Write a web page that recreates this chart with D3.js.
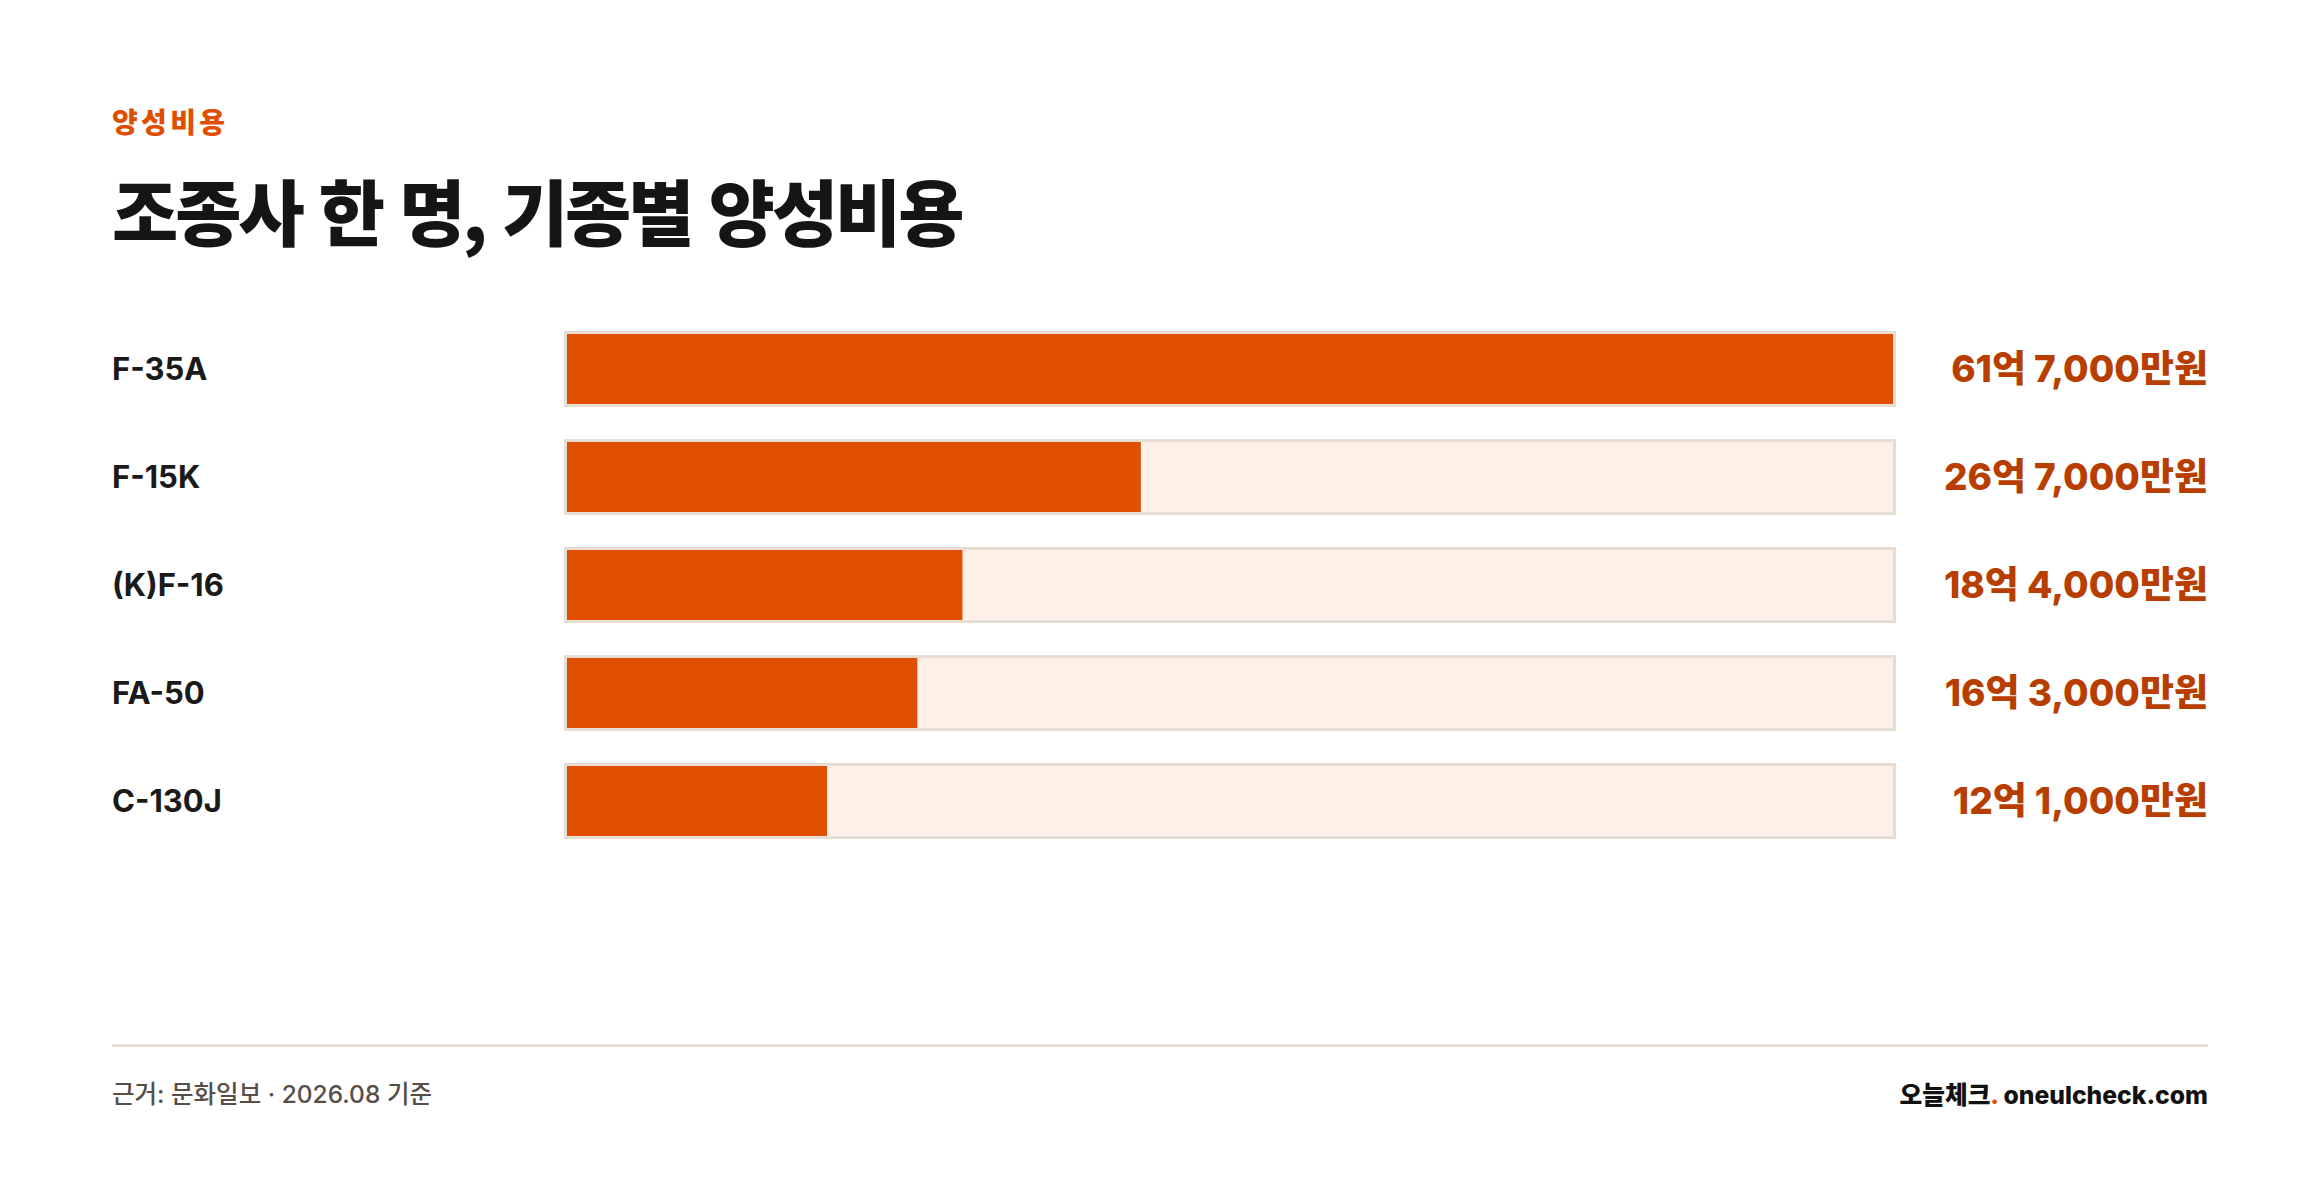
<!DOCTYPE html>
<html lang="ko">
<head>
<meta charset="utf-8">
<script src="https://cdn.jsdelivr.net/npm/d3@7"></script>
<style>
  html, body { margin: 0; padding: 0; background: #fff; }
  svg { display: block; }
</style>
</head>
<body>
<div id="chart"></div>
<script>
// 기종별 조종사 1인 양성비용 (억원)
const aircraft = ["F-35A", "F-15K", "(K)F-16", "FA-50", "C-130J"];
const costs = [61.7, 26.7, 18.4, 16.3, 12.1];
const costLabels = ["61억 7,000만원", "26억 7,000만원", "18억 4,000만원", "16억 3,000만원", "12억 1,000만원"];

const kicker = "양성비용";
const title = "조종사 한 명, 기종별 양성비용";
const source = "근거: 문화일보 · 2026.08 기준";
const brandKo = "오늘체크";
const brandEn = " oneulcheck.com";

document.addEventListener("DOMContentLoaded", function () {
    const width = 2320, height = 1190;
    const left = 112, right = 2208;
    const sans = "Inter, 'Noto Sans CJK KR', sans-serif";
    const kr = "'Noto Sans CJK KR', Inter, sans-serif";

    const svg = d3.select("#chart").append("svg")
        .attr("width", width)
        .attr("height", height)
        .attr("viewBox", `0 0 ${width} ${height}`);

    svg.append("rect").attr("width", width).attr("height", height).attr("fill", "#fff");

    // header
    svg.append("text")
        .attr("x", left).attr("y", 133)
        .attr("font-family", kr).attr("font-weight", 800)
        .attr("font-size", 28).attr("letter-spacing", "0.12em")
        .attr("fill", "#e04e00")
        .text(kicker);

    svg.append("text")
        .attr("x", left).attr("y", 240)
        .attr("font-family", kr).attr("font-weight", 900)
        .attr("font-size", 72).attr("letter-spacing", "-0.042em")
        .attr("fill", "#151515")
        .text(title);

    // scales
    const y = d3.scaleBand()
        .domain(aircraft)
        .range([331, 839])
        .paddingInner(32 / 108)
        .paddingOuter(0);

    const trackX0 = 564, trackX1 = 1896, border = 3;
    const x = d3.scaleLinear()
        .domain([0, d3.max(costs)])
        .range([trackX0 + border, trackX1 - border]);

    const rows = svg.append("g").selectAll("g")
        .data(aircraft.map((name, i) => ({ name, cost: costs[i], label: costLabels[i] })))
        .enter().append("g");

    // track
    rows.append("rect")
        .attr("x", trackX0 + border / 2)
        .attr("y", d => y(d.name) + border / 2)
        .attr("width", trackX1 - trackX0 - border)
        .attr("height", y.bandwidth() - border)
        .attr("fill", "#fdf0e6")
        .attr("stroke", "#e8ddd3")
        .attr("stroke-width", border);

    // value bar
    rows.append("rect")
        .attr("x", x(0))
        .attr("y", d => y(d.name) + border)
        .attr("width", d => x(d.cost) - x(0))
        .attr("height", y.bandwidth() - border * 2)
        .attr("fill", "#e04e00");

    // category label
    rows.append("text")
        .attr("x", left)
        .attr("y", d => y(d.name) + y.bandwidth() / 2 + 11)
        .attr("font-family", sans).attr("font-weight", 700)
        .attr("font-size", 31)
        .attr("fill", "#1a1a1a")
        .text(d => d.name);

    // value label
    rows.append("text")
        .attr("x", right)
        .attr("y", d => y(d.name) + y.bandwidth() / 2 + 13)
        .attr("text-anchor", "end")
        .attr("font-family", sans).attr("font-weight", 800)
        .attr("font-size", 37)
        .attr("fill", "#b83e00")
        .text(d => d.label);

    // footer
    svg.append("line")
        .attr("x1", left).attr("x2", right)
        .attr("y1", 1045.5).attr("y2", 1045.5)
        .attr("stroke", "#e8ddd3").attr("stroke-width", 3);

    svg.append("text")
        .attr("x", left).attr("y", 1103)
        .attr("font-family", sans).attr("font-weight", 500)
        .attr("font-size", 24.5)
        .attr("fill", "#574e48")
        .text(source);

    const brand = svg.append("text")
        .attr("x", right).attr("y", 1104)
        .attr("text-anchor", "end")
        .attr("font-family", sans).attr("font-weight", 800)
        .attr("font-size", 24.7)
        .attr("fill", "#111");
    brand.append("tspan").text(brandKo);
    brand.append("tspan").attr("fill", "#e04e00").text(".");
    brand.append("tspan").text(brandEn);
});
</script>
</body>
</html>
